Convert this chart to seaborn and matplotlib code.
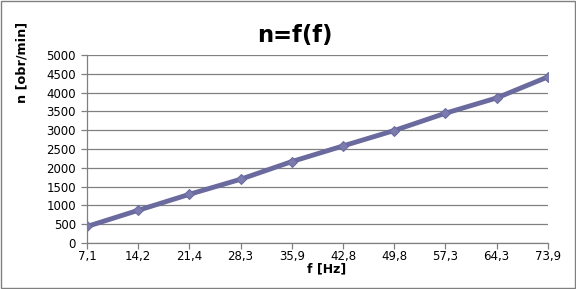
import matplotlib
matplotlib.use("Agg")
import matplotlib.pyplot as plt
import seaborn as sns
import pandas as pd

categories = ["7,1", "14,2", "21,4", "28,3", "35,9", "42,8", "49,8", "57,3", "64,3", "73,9"]
n_values = [440, 870, 1295, 1695, 2165, 2580, 2990, 3450, 3855, 4415]
y_ticks = [0, 500, 1000, 1500, 2000, 2500, 3000, 3500, 4000, 4500, 5000]

sns.set_theme(style="white")
plt.rcParams['font.family'] = ['DejaVu Sans']

df = pd.DataFrame({"f": categories, "n": n_values, "i": range(len(categories))})

fig = plt.figure(figsize=(5.76, 2.89), dpi=100)
ax = fig.add_axes([0.151, 0.159, 0.800, 0.651])

sns.lineplot(data=df, x="i", y="n", ax=ax, color="#6a6a9e", linewidth=3.5,
             marker="D", markersize=5.5, markeredgecolor="#6a6a9e", markerfacecolor="#7b7bb0")

ax.set_xlim(0, len(categories) - 1)
ax.set_ylim(0, 5000)
ax.set_xticks(range(len(categories)))
ax.set_xticklabels(categories)
ax.set_yticks(y_ticks)
ax.yaxis.grid(True, color="#808080", linewidth=0.9)
ax.xaxis.grid(False)
ax.set_axisbelow(True)
for s in ["top", "right"]:
    ax.spines[s].set_visible(False)
for s in ["left", "bottom"]:
    ax.spines[s].set_color("#808080")
    ax.spines[s].set_linewidth(0.9)
ax.tick_params(axis="both", which="both", direction="out", length=4, color="#808080",
               labelsize=8.5, labelcolor="black", width=0.9, bottom=True, left=True)
ax.tick_params(axis="x", pad=1)
ax.tick_params(axis="y", pad=4)

ax.set_xlabel("")
ax.set_ylabel("")
fig.text(327 / 576, 1 - 269 / 289, "f [Hz]", ha="center", va="center",
         fontsize=9, fontweight="bold", color="black")
fig.text(22 / 576, 1 - 62 / 289, "n [obr/min]", ha="center", va="center", rotation=90,
         fontsize=9.2, fontweight="bold", color="black")
fig.text(295 / 576, 1 - 35.5 / 289, "n=f(f)", ha="center", va="center",
         fontsize=16.3, fontweight="bold", color="black")

border = plt.Rectangle((0.002, 0.003), 0.996, 0.994, transform=fig.transFigure,
                       fill=False, edgecolor="#808080", linewidth=1.0)
fig.patches.append(border)

fig.savefig("out.png", dpi=100)
